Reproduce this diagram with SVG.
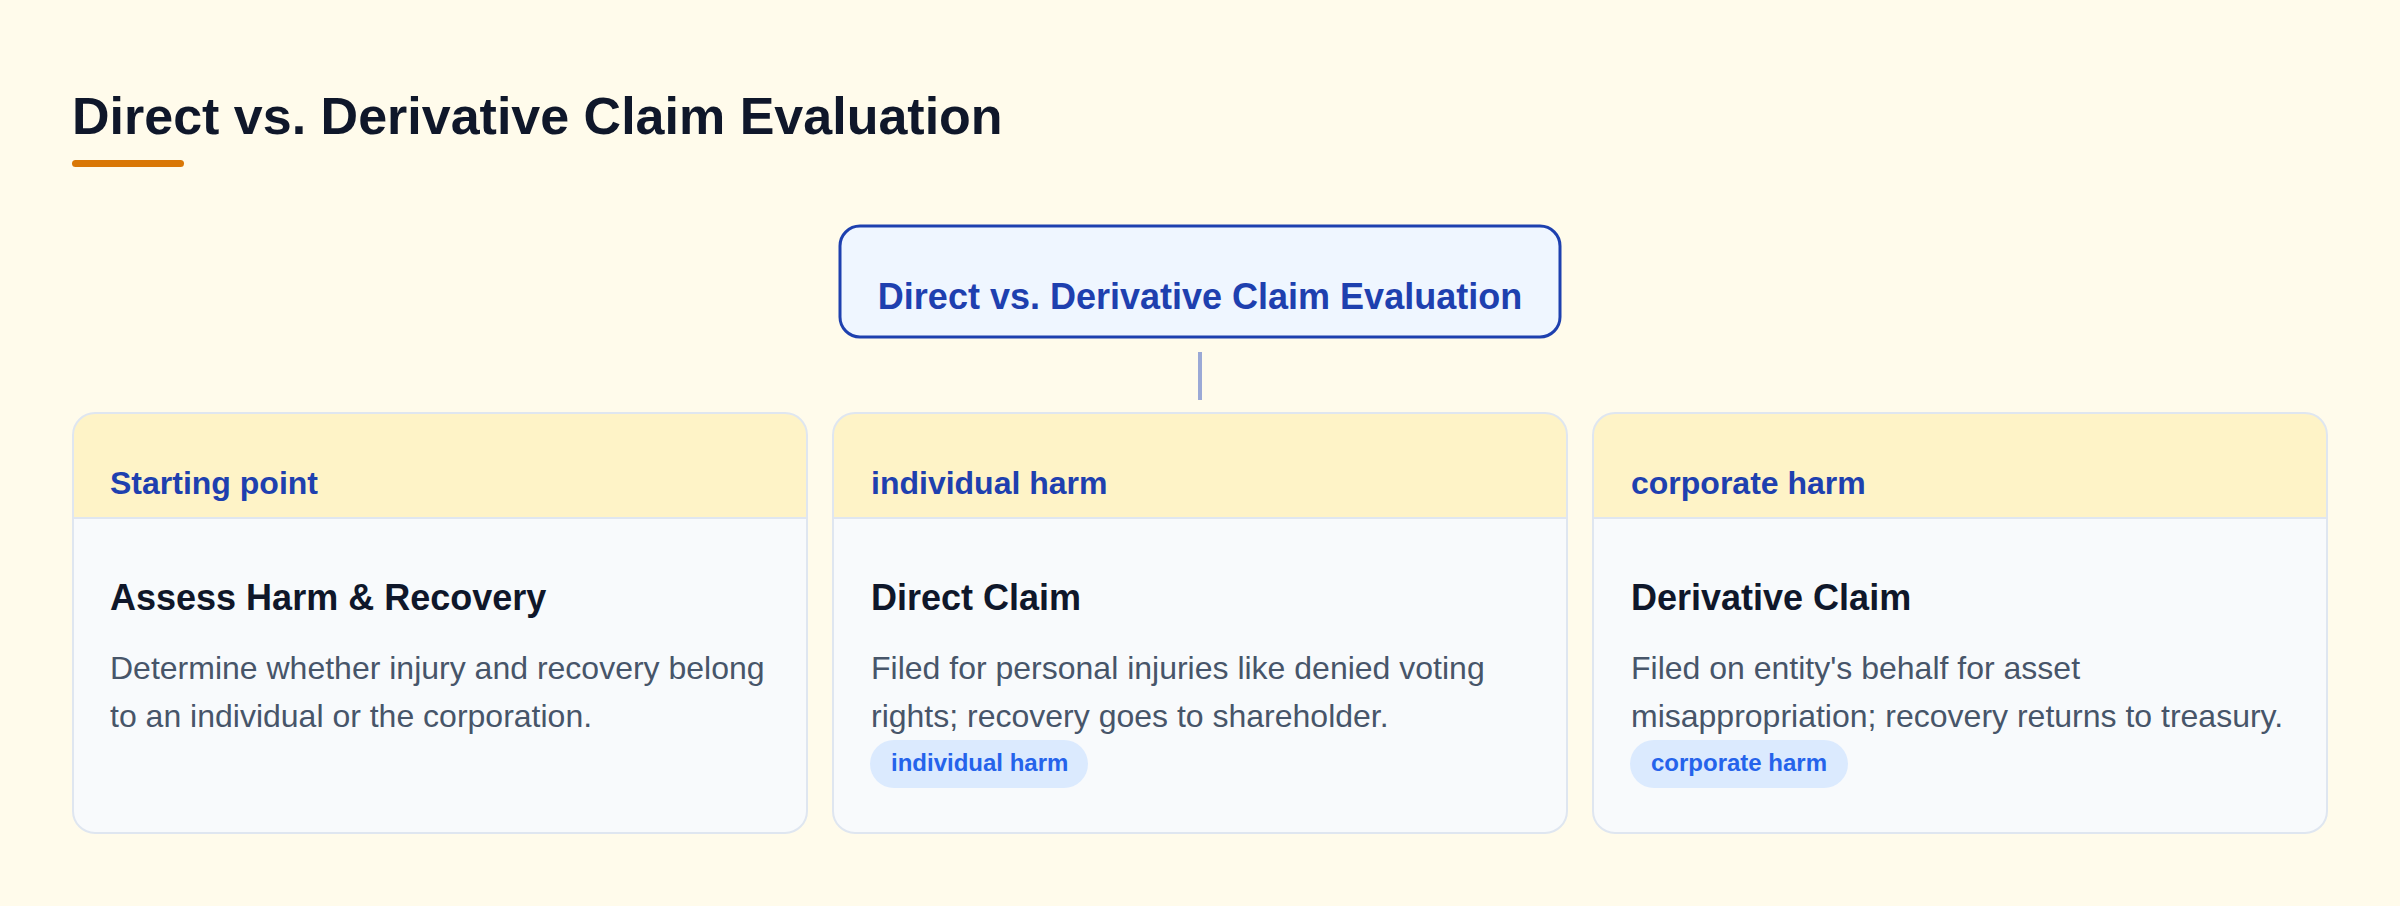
<svg xmlns="http://www.w3.org/2000/svg" width="2400" height="906" viewBox="0 0 2400 906">
  <style>
    text { font-family: "Liberation Sans", Arial, sans-serif; }
    .title { font-size: 52px; font-weight: 700; fill: #0f172a; }
    .root-text { font-size: 36px; font-weight: 700; fill: #1e40af; }
    .hdr { font-size: 32px; font-weight: 700; fill: #1e40af; }
    .ctitle { font-size: 36px; font-weight: 700; fill: #0f172a; }
    .desc { font-size: 32px; fill: #475569; }
    .pill { fill: #dbeafe; }
    .pill-text { font-size: 24px; font-weight: 700; fill: #2563eb; }
    .card-body { fill: #f8fafc; }
    .card-head { fill: #fef3c7; }
    .card-border { fill: none; stroke: #dfe6f0; stroke-width: 2; }
    .divider { stroke: #dfe6f0; stroke-width: 2; }
  </style>
  <rect x="0" y="0" width="2400" height="906" fill="#fffbeb"/>

  <g id="page-title">
    <text class="title" x="72" y="134">Direct vs. Derivative Claim Evaluation</text>
    <rect x="72" y="160" width="112" height="7" rx="3.5" fill="#d97706"/>
  </g>

  <g id="root">
    <rect x="840" y="226" width="720" height="111" rx="20" fill="#eff6ff" stroke="#1e40af" stroke-width="3"/>
    <text class="root-text" x="1200" y="309" text-anchor="middle">Direct vs. Derivative Claim Evaluation</text>
  </g>

  <g id="connectors">
    <line x1="1200" y1="352" x2="1200" y2="400" stroke="#9ba9d6" stroke-width="4"/>
  </g>

  <g id="card-start">
    <rect class="card-body" x="73" y="413" width="734" height="420" rx="22"/>
    <path class="card-head" d="M73,518 V435 A22,22 0 0 1 95,413 H785 A22,22 0 0 1 807,435 V518 Z"/>
    <line class="divider" x1="73" y1="518" x2="807" y2="518"/>
    <rect class="card-border" x="73" y="413" width="734" height="420" rx="22"/>
    <text class="hdr" x="110" y="494">Starting point</text>
    <text class="ctitle" x="110" y="610">Assess Harm &amp; Recovery</text>
    <text class="desc" x="110" y="679">Determine whether injury and recovery belong</text>
    <text class="desc" x="110" y="727">to an individual or the corporation.</text>
  </g>

  <g id="card-direct">
    <rect class="card-body" x="833" y="413" width="734" height="420" rx="22"/>
    <path class="card-head" d="M833,518 V435 A22,22 0 0 1 855,413 H1545 A22,22 0 0 1 1567,435 V518 Z"/>
    <line class="divider" x1="833" y1="518" x2="1567" y2="518"/>
    <rect class="card-border" x="833" y="413" width="734" height="420" rx="22"/>
    <text class="hdr" x="871" y="494">individual harm</text>
    <text class="ctitle" x="871" y="610">Direct Claim</text>
    <text class="desc" x="871" y="679">Filed for personal injuries like denied voting</text>
    <text class="desc" x="871" y="727">rights; recovery goes to shareholder.</text>
    <rect class="pill" x="870" y="740" width="218" height="48" rx="24"/>
    <text class="pill-text" x="891" y="771">individual harm</text>
  </g>

  <g id="card-derivative">
    <rect class="card-body" x="1593" y="413" width="734" height="420" rx="22"/>
    <path class="card-head" d="M1593,518 V435 A22,22 0 0 1 1615,413 H2305 A22,22 0 0 1 2327,435 V518 Z"/>
    <line class="divider" x1="1593" y1="518" x2="2327" y2="518"/>
    <rect class="card-border" x="1593" y="413" width="734" height="420" rx="22"/>
    <text class="hdr" x="1631" y="494">corporate harm</text>
    <text class="ctitle" x="1631" y="610">Derivative Claim</text>
    <text class="desc" x="1631" y="679">Filed on entity's behalf for asset</text>
    <text class="desc" x="1631" y="727">misappropriation; recovery returns to treasury.</text>
    <rect class="pill" x="1630" y="740" width="218" height="48" rx="24"/>
    <text class="pill-text" x="1651" y="771">corporate harm</text>
  </g>
</svg>
